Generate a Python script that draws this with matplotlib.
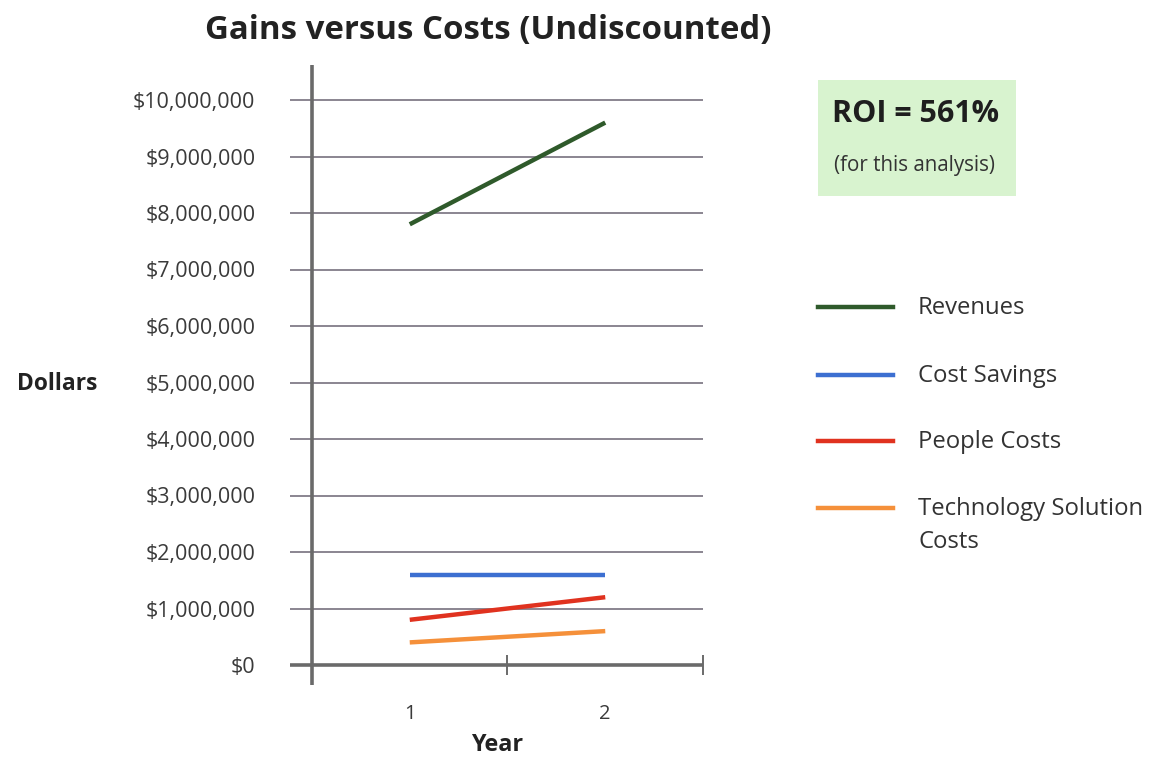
import matplotlib
matplotlib.use("Agg")
import matplotlib.pyplot as plt
from matplotlib.lines import Line2D
from matplotlib.patches import Rectangle

plt.rcParams['font.family'] = ['Open Sans', 'DejaVu Sans']

# données
years = [1, 2]
series_names = ['Revenues', 'Cost Savings', 'People Costs', 'Technology Solution\nCosts']
revenues = [7_800_000, 9_600_000]
cost_savings = [1_600_000, 1_600_000]
people_costs = [800_000, 1_200_000]
tech_costs = [400_000, 600_000]
series_values = [revenues, cost_savings, people_costs, tech_costs]
series_colors = ['#2f5a2b', '#3c6fd1', '#e0321f', '#f5903a']
y_ticks = [0, 1_000_000, 2_000_000, 3_000_000, 4_000_000, 5_000_000,
           6_000_000, 7_000_000, 8_000_000, 9_000_000, 10_000_000]
roi_text = 'ROI = 561%'
roi_note = '(for this analysis)'

W, H = 1151, 758
fig = plt.figure(figsize=(W / 100, H / 100), dpi=100)

# axes placées en pixels
left, right, top, bottom = 290, 705, 65, 685
ax = fig.add_axes([left / W, 1 - bottom / H, (right - left) / W, (bottom - top) / H])
px_per_unit = (703 - 312) / 2.0
x0 = 0.5 - (312 - left) / px_per_unit
ax.set_xlim(x0, 2.5 + (right - 703) / px_per_unit)
px_per_m = (665 - 100) / 10.0
ax.set_ylim(-(bottom - 665) / px_per_m * 1e6, 10e6 + (100 - top) / px_per_m * 1e6)
for s in ax.spines.values():
    s.set_visible(False)

grid_col = '#8a8590'
axis_col = '#6a6a6a'
ax.hlines(y_ticks[1:], x0, 2.5, color=grid_col, lw=1.4, zorder=1)
ax.hlines(0, x0, 2.5, color=axis_col, lw=2.6, zorder=2)
ax.axvline(0.5, color=axis_col, lw=2.6, zorder=2)
for xt in [1.5, 2.5]:
    ax.vlines(xt, -0.17e6, 0.17e6, color=axis_col, lw=1.4, zorder=2)

for vals, col in zip(series_values, series_colors):
    ax.plot(years, vals, color=col, lw=3.2, solid_capstyle='butt', zorder=3)

ax.set_yticks(y_ticks)
ax.set_yticklabels(['${:,.0f}'.format(v) for v in y_ticks], fontsize=15.5, color='#3a3a3a')
ax.set_xticks(years)
ax.set_xticklabels([str(y) for y in years], fontsize=14.5, color='#3a3a3a')
ax.tick_params(axis='y', length=0, pad=25)
ax.tick_params(axis='x', length=0, pad=14)

fig.text(488 / W, 1 - 30 / H, 'Gains versus Costs (Undiscounted)', ha='center', va='center',
         fontsize=23.8, fontweight='bold', color='#222222')
fig.text(57 / W, 1 - 384 / H, 'Dollars', ha='center', va='center', fontsize=16.4,
         fontweight='bold', color='#222222')
fig.text(497 / W, 1 - 745 / H, 'Year', ha='center', va='center', fontsize=16.8,
         fontweight='bold', color='#222222')

# encadré ROI
fig.add_artist(Rectangle((818 / W, 1 - 196 / H), (1016 - 818) / W, (196 - 80) / H,
                         transform=fig.transFigure, facecolor='#d8f3cf', edgecolor='none'))
fig.text(916 / W, 1 - 114 / H, roi_text, ha='center', va='center', fontsize=22,
         fontweight='bold', color='#1e1e1e')
fig.text(914 / W, 1 - 166 / H, roi_note, ha='center', va='center', fontsize=14.8,
         color='#333333')

# légende dessinée à la main (chaque ligne de texte séparément)
leg_y = [307, 375, 441, 508]
for name, col, yy in zip(series_names, series_colors, leg_y):
    fig.add_artist(Line2D([818 / W, 893 / W], [1 - yy / H, 1 - yy / H],
                          transform=fig.transFigure, color=col, lw=3.2))
    for k, part in enumerate(name.split('\n')):
        fig.text(918 / W, 1 - (yy + 7 + 33 * k) / H, part, ha='left', va='baseline',
                 fontsize=17.2, color='#333333')

fig.savefig('out.png', dpi=100)
